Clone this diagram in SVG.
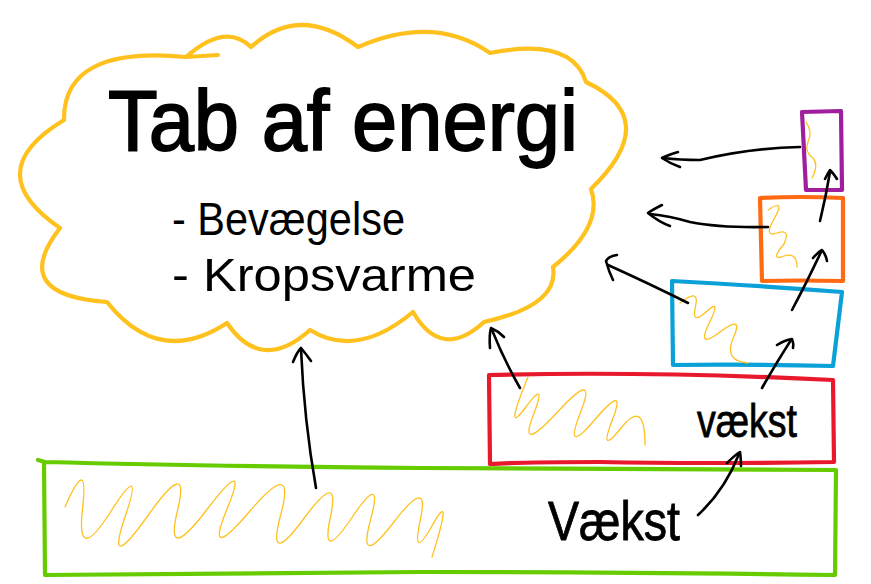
<svg xmlns="http://www.w3.org/2000/svg" width="871" height="584" viewBox="0 0 871 584">
<style>
.cloud{fill:none;stroke:#FFC11E;stroke-width:4.2;stroke-linecap:round;stroke-linejoin:round}
.box{fill:none;stroke-width:4.2;stroke-linecap:round;stroke-linejoin:round}
.sq{fill:none;stroke:#FFC11E;stroke-width:1.3;stroke-linecap:round;stroke-linejoin:round}
.arr{fill:none;stroke:#000;stroke-width:2.6;stroke-linecap:round;stroke-linejoin:round}
.t{font-family:"Liberation Sans",Arial,sans-serif;fill:#000}
</style>
<rect width="871" height="584" fill="#fff"/>
<g id="cloud">
<path class="cloud" d="M186,57 Q225.5,22 251,47 Q299.5,3 358,47 Q434,14 490,53 Q572,36.5 586,82 Q663.5,118.5 591,189 Q604,226 553,267 Q559.5,305.5 484,322 Q441.5,361 413,312 Q356.5,359 310,330 Q261.5,373.5 227,323 Q159,367.5 107,302 Q8,295 60,228 Q-22,172 64,120 Q63,45.5 186,57 L218,55"/>
<text class="t" x="108" y="150" font-size="86" stroke="#000" stroke-width="1.8" textLength="470" lengthAdjust="spacingAndGlyphs">Tab af energi</text>
<text class="t" x="172" y="235" font-size="46" textLength="233" lengthAdjust="spacingAndGlyphs">- Bevægelse</text>
<text class="t" x="172" y="291" font-size="47" textLength="304" lengthAdjust="spacingAndGlyphs">- Kropsvarme</text>
</g>
<g id="green">
<path class="box" stroke="#66CC00" d="M38,460 L45,462 Q200,466 420,468 Q650,470 836,470 L835,575 Q600,572 420,572 Q200,574 45,575 L44,462"/>
<path class="sq" d="M65,507 Q89,452 82.5,509 Q76,566 110.5,512 Q145,458 125,517 Q105,576 148,515.5 Q191,455 177.5,510.5 Q164,566 207,509.5 Q250,453 227,509 Q204,565 250,511 Q296,457 281,513.5 Q266,570 303.5,519 Q341,468 330.5,516.5 Q320,565 352,517.5 Q384,470 370.5,520 Q357,570 393.5,522.5 Q430,475 420.5,519 Q411,563 432.5,525 Q454,487 432,557"/>
<text class="t" x="548" y="540" font-size="55" stroke="#000" stroke-width="0.8" textLength="132" lengthAdjust="spacingAndGlyphs">Vækst</text>
</g>
<g id="red">
<path class="box" stroke="#E8192C" d="M489,375 Q650,371 833,380 L834,462 Q700,464 600,462 Q520,462 490,464 L489,375"/>
<path class="sq" d="M528,377 Q503,438 525.5,407.5 Q548,377 533,416 Q518,455 558,411.5 Q598,368 580.5,412.5 Q563,457 595,419.5 Q627,382 612.5,419.5 Q598,457 621.5,427.5 Q645,398 645,445"/>
<text class="t" x="697" y="437" font-size="47" stroke="#000" stroke-width="0.8" textLength="100" lengthAdjust="spacingAndGlyphs">vækst</text>
</g>
<g id="blue">
<path class="box" stroke="#0AA0D8" d="M672,281 Q750,285 842,292 L833,366 Q750,364 673,365 L672,281"/>
<path class="sq" d="M680,303 Q700,287 695.5,306.5 Q691,326 706.5,311.5 Q722,297 709,323.5 Q696,350 720,332 Q744,314 733.5,337.5 Q723,361 748,363"/>
</g>
<g id="orange">
<path class="box" stroke="#FF6A13" d="M760,198 Q800,196 843,198 L843,281 Q800,280 762,281 L760,198"/>
<path class="sq" d="M768,210 Q786,198 774.5,218 Q763,238 777,233 Q791,228 784,244 Q769,262 784,256 Q797,252 797,267"/>
</g>
<g id="purple">
<path class="box" stroke="#A01E9E" d="M802,112 L841,111 L842,190 L806,190 L802,112"/>
<path class="sq" d="M806,122 Q813,132 808,142 Q804,152 813,158 Q819,165 812,178"/>
</g>
<g id="connectors">
<path class="arr" d="M316,488 Q304,420 301,349"/>
<path class="arr" d="M293,362 Q297,352 301,348 Q306,354 311,361"/>
<path class="arr" d="M520,388 Q504,360 492,330"/>
<path class="arr" d="M490,348 Q489,335 491,328 Q498,331 504,337"/>
<path class="arr" d="M688,303 Q650,284 608,265"/>
<path class="arr" d="M617,255 Q609,256 606,261 Q609,272 613,280"/>
<path class="arr" d="M768,227 Q720,228 690,222 Q670,216 650,214"/>
<path class="arr" d="M662,205 Q652,210 648,213 Q659,222 670,226"/>
<path class="arr" d="M800,147 Q750,148 700,160 Q680,160 663,158"/>
<path class="arr" d="M678,152 Q668,155 662,158 Q671,164 680,167"/>
<path class="arr" d="M762,388 Q775,365 791,340"/>
<path class="arr" d="M777,345 Q785,340 792,339 Q794,344 793,348"/>
<path class="arr" d="M792,310 Q808,280 821,252"/>
<path class="arr" d="M813,258 Q818,252 822,250 Q826,255 827,261"/>
<path class="arr" d="M820,221 Q826,196 830,172"/>
<path class="arr" d="M825,179 Q828,173 830,170 Q834,174 837,179"/>
<path class="arr" d="M698,515 Q725,490 739,454"/>
<path class="arr" d="M727,463 Q735,455 740,452 Q741,459 741,466"/>
</g>
</svg>
